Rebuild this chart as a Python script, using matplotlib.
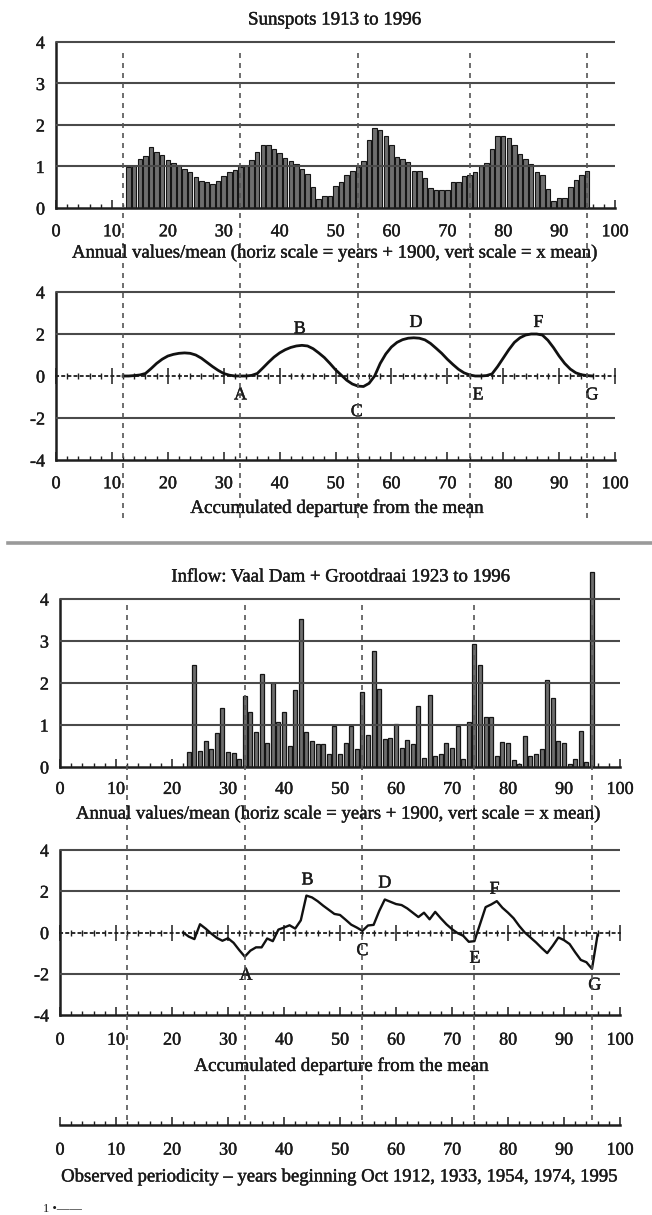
import matplotlib
matplotlib.use("Agg")
import matplotlib.pyplot as plt
import matplotlib.patheffects as pe
import numpy as np
from matplotlib.ticker import MultipleLocator, FixedLocator
from matplotlib.lines import Line2D

plt.rcParams['font.family'] = ['Liberation Serif', 'DejaVu Serif']

# ---------------- data ----------------
sun_years = list(range(13, 96))
sun_values = [0.98, 1.00, 1.18, 1.25, 1.47, 1.36, 1.28, 1.15, 1.08, 1.03,
              0.95, 0.87, 0.75, 0.66, 0.62, 0.58, 0.65, 0.78, 0.86, 0.92,
              0.98, 1.00, 1.15, 1.35, 1.53, 1.52, 1.42, 1.32, 1.20, 1.13,
              1.06, 0.95, 0.81, 0.51, 0.21, 0.29, 0.29, 0.54, 0.63, 0.80,
              0.90, 0.98, 1.14, 1.65, 1.92, 1.89, 1.74, 1.52, 1.24, 1.17,
              1.10, 0.90, 0.88, 0.72, 0.48, 0.43, 0.43, 0.43, 0.62, 0.62,
              0.76, 0.80, 0.87, 1.02, 1.08, 1.42, 1.74, 1.74, 1.68, 1.52,
              1.30, 1.18, 1.06, 0.86, 0.80, 0.45, 0.16, 0.24, 0.24, 0.50,
              0.68, 0.80, 0.88]

sun_acc_years = list(range(12, 97))
sun_acc = [0.00, 0.00, 0.02, 0.05, 0.12, 0.35, 0.60, 0.80, 0.95, 1.03,
           1.08, 1.10, 1.08, 1.00, 0.85, 0.65, 0.45, 0.27, 0.12, 0.04,
           0.00, 0.00, 0.00, 0.03, 0.12, 0.38, 0.65, 0.90, 1.10, 1.25,
           1.36, 1.43, 1.46, 1.43, 1.30, 1.10, 0.88, 0.60, 0.30, 0.05,
           -0.20, -0.38, -0.48, -0.50, -0.35, 0.00, 0.60, 1.05, 1.38, 1.60,
           1.73, 1.80, 1.82, 1.80, 1.72, 1.55, 1.32, 1.08, 0.80, 0.55,
           0.32, 0.15, 0.05, 0.00, 0.00, 0.02, 0.10, 0.45, 0.85, 1.25,
           1.60, 1.82, 1.95, 2.00, 2.00, 1.95, 1.70, 1.35, 0.95, 0.60,
           0.33, 0.15, 0.06, 0.02, 0.00]

inflow_years = list(range(23, 96))
inflow_values = [0.36, 2.44, 0.38, 0.62, 0.42, 0.80, 1.40, 0.36, 0.34, 0.20,
                 1.68, 1.30, 0.84, 2.22, 0.56, 2.00, 1.08, 1.30, 0.50, 1.84,
                 3.52, 0.84, 0.62, 0.54, 0.54, 0.30, 0.98, 0.30, 0.58, 0.98,
                 0.42, 1.78, 0.76, 2.76, 1.86, 0.66, 0.70, 1.02, 0.46, 0.64,
                 0.54, 1.46, 0.22, 1.72, 0.26, 0.32, 0.58, 0.46, 0.98, 0.18,
                 1.08, 2.94, 2.44, 1.20, 1.18, 0.26, 0.60, 0.58, 0.16, 0.06,
                 0.74, 0.26, 0.32, 0.44, 2.06, 1.64, 0.62, 0.56, 0.08, 0.20,
                 0.86, 0.12, 4.64]

inflow_acc_years = list(range(22, 97))
inflow_acc = [0.00, -0.20, -0.32, 0.40, 0.19, -0.05, -0.26, -0.40, -0.28, -0.50,
              -0.85, -1.17, -0.88, -0.72, -0.72, -0.29, -0.42, 0.14, 0.24, 0.35,
              0.19, 0.59, 1.79, 1.70, 1.52, 1.30, 1.10, 0.90, 0.85, 0.62,
              0.38, 0.24, 0.08, 0.34, 0.37, 1.04, 1.60, 1.49, 1.38, 1.33,
              1.17, 0.96, 0.75, 0.96, 0.64, 1.00, 0.69, 0.40, 0.16, -0.03,
              -0.16, -0.45, -0.42, 0.40, 1.23, 1.36, 1.52, 1.20, 0.96, 0.69,
              0.32, 0.00, -0.24, -0.48, -0.75, -1.00, -0.64, -0.24, -0.37, -0.56,
              -0.96, -1.33, -1.44, -1.76, -0.10]

period_years = [12, 33, 54, 74, 95]

letters = ['A', 'B', 'C', 'D', 'E', 'F', 'G']
sun_letter_x = [33.0, 43.6, 53.8, 64.4, 75.5, 86.3, 95.9]
sun_letter_y = [-0.9, 2.25, -1.7, 2.55, -0.9, 2.55, -0.9]
inf_letter_x = [33.2, 44.2, 54.0, 58.0, 74.1, 77.6, 95.5]
inf_letter_y = [-2.07, 2.55, -0.88, 2.4, -1.25, 2.1, -2.55]

xtick_vals = list(range(0, 101, 10))

title_sun = "Sunspots 1913 to 1996"
title_inf = "Inflow: Vaal Dam + Grootdraai 1923 to 1996"
xlab_annual = "Annual values/mean (horiz scale = years + 1900, vert scale = x mean)"
xlab_acc = "Accumulated departure from the mean"
xlab_period = "Observed periodicity \u2013 years beginning Oct 1912, 1933, 1954, 1974, 1995"

# ---------------- layout helpers ----------------
W, H = 652, 1215
fig = plt.figure(figsize=(W / 100, H / 100), dpi=100)
fig.patch.set_facecolor('white')

GRID_C = '#4a4a4a'
AX_C = '#1e1e1e'
TXT_C = '#1a1a1a'
FS_TICK = 13
THICK = [pe.withStroke(linewidth=0.3, foreground=TXT_C)]


def add_axes_px(x0, x1, px_lo, px_hi, v_lo, v_hi, ylim):
    unit = (px_lo - px_hi) / (v_hi - v_lo)
    ybot = px_lo + (v_lo - ylim[0]) * unit
    ytop = px_lo - (ylim[1] - v_lo) * unit
    ax = fig.add_axes([x0 / W, 1 - ybot / H, (x1 - x0) / W, (ybot - ytop) / H])
    ax.set_ylim(*ylim)
    ax.set_xlim(0, 100)
    ax.patch.set_visible(False)
    return ax


def thicken_ticklabels(ax):
    for t in ax.get_xticklabels() + ax.get_yticklabels():
        t.set_path_effects(THICK)


def style_chart(ax, yticks, ylabels, grid_vals, ylo, yhi, xpad):
    for s in ('top', 'right'):
        ax.spines[s].set_visible(False)
    ax.spines['left'].set_linewidth(1.8)
    ax.spines['left'].set_color(AX_C)
    ax.spines['left'].set_bounds(ylo, yhi)
    ax.spines['bottom'].set_linewidth(1.8)
    ax.spines['bottom'].set_color(AX_C)
    ax.set_yticks(yticks)
    ax.set_yticklabels(ylabels)
    ax.tick_params(axis='y', length=0, pad=8, labelsize=FS_TICK, labelcolor=TXT_C)
    ax.xaxis.set_major_locator(FixedLocator(xtick_vals))
    ax.xaxis.set_minor_locator(MultipleLocator(2))
    ax.set_xticklabels([str(v) for v in xtick_vals])
    ax.tick_params(axis='x', which='major', direction='in', length=6, width=1.1,
                   color=AX_C, labelsize=FS_TICK, pad=xpad, labelcolor=TXT_C)
    ax.tick_params(axis='x', which='minor', direction='in', length=3, width=1.0, color=AX_C)
    thicken_ticklabels(ax)
    for v in grid_vals:
        ax.axhline(v, color=GRID_C, lw=1.5, zorder=3)


def zero_axis(ax):
    sec = ax.secondary_xaxis(0, transform=ax.transData)
    sec.xaxis.set_major_locator(FixedLocator(xtick_vals))
    sec.xaxis.set_minor_locator(MultipleLocator(2))
    sec.tick_params(which='major', direction='inout', length=11, width=1.1, color=AX_C,
                    labelbottom=False, labeltop=False)
    sec.tick_params(which='minor', direction='inout', length=4, width=1.0, color=AX_C)
    for s in sec.spines.values():
        s.set_linestyle((0, (1.2, 2.2)))
        s.set_linewidth(1.3)
        s.set_color(AX_C)
    return sec


def fit_text(t, target_px):
    r = fig.canvas.get_renderer()
    w = t.get_window_extent(r).width
    t.set_fontsize(t.get_fontsize() * target_px / w)


def ftext(xpx, ypx, s, target_w, **kw):
    t = fig.text(xpx / W, 1 - ypx / H, s, ha='center', va='center', color=TXT_C,
                 fontsize=12, **kw)
    fit_text(t, target_w)
    t.set_path_effects(THICK)
    return t

# ---------------- chart 1: sunspots annual ----------------
ax1 = add_axes_px(56, 615, 208, 42, 0, 4, (0, 4.15))
style_chart(ax1, [0, 1, 2, 3, 4], ['0', '1', '2', '3', '4'], [1, 2, 3, 4], 0, 4, 11)
ax1.bar(sun_years, sun_values, width=0.8, facecolor='#6e6e6e', edgecolor='#151515',
        linewidth=0.8, zorder=2)

# ---------------- chart 2: sunspots accumulated ----------------
ax2 = add_axes_px(56, 615, 460, 292, -4, 4, (-4, 4.2))
style_chart(ax2, [-4, -2, 0, 2, 4], ['-4', '-2', '0', '2', '4'], [2, 4, -2], -4, 4, 11)
zero_axis(ax2)
ax2.plot(sun_acc_years, sun_acc, color='#111111', lw=2.0, zorder=4,
         solid_joinstyle='round')
for lab, lx, ly in zip(letters, sun_letter_x, sun_letter_y):
    ax2.text(lx, ly, lab, ha='center', va='center', fontsize=13, color=TXT_C, zorder=5,
             path_effects=THICK)

# ---------------- chart 3: inflow annual ----------------
ax3 = add_axes_px(60, 620, 767, 599, 0, 4, (0, 4.7))
style_chart(ax3, [0, 1, 2, 3, 4], ['0', '1', '2', '3', '4'], [1, 2, 3, 4], 0, 4, 10)
ax3.bar(inflow_years, inflow_values, width=0.68, facecolor='#6e6e6e', edgecolor='#151515',
        linewidth=0.9, zorder=2)

# ---------------- chart 4: inflow accumulated ----------------
ax4 = add_axes_px(60, 620, 1015, 850, -4, 4, (-4, 4.2))
style_chart(ax4, [-4, -2, 0, 2, 4], ['-4', '-2', '0', '2', '4'], [2, 4, -2], -4, 4, 12)
zero_axis(ax4)
ax4.plot(inflow_acc_years, inflow_acc, color='#111111', lw=1.7, zorder=4,
         solid_joinstyle='round')
for lab, lx, ly in zip(letters, inf_letter_x, inf_letter_y):
    ax4.text(lx, ly, lab, ha='center', va='center', fontsize=13, color=TXT_C, zorder=5,
             path_effects=THICK)

# ---------------- bottom scale ----------------
ax5 = add_axes_px(60, 620, 1125, 1105, 0, 1, (0, 1))
for s in ('top', 'right', 'left'):
    ax5.spines[s].set_visible(False)
ax5.spines['bottom'].set_linewidth(1.8)
ax5.spines['bottom'].set_color(AX_C)
ax5.set_yticks([])
ax5.xaxis.set_major_locator(FixedLocator(xtick_vals))
ax5.xaxis.set_minor_locator(MultipleLocator(2))
ax5.set_xticklabels([str(v) for v in xtick_vals])
ax5.tick_params(axis='x', which='major', direction='in', length=6, width=1.1,
                color=AX_C, labelsize=FS_TICK, pad=12, labelcolor=TXT_C)
ax5.tick_params(axis='x', which='minor', direction='in', length=3, width=1.0, color=AX_C)
thicken_ticklabels(ax5)

# ---------------- dashed periodicity lines ----------------
ov_top = add_axes_px(56, 615, 518, 48, 0, 1, (0, 1))
ov_top.axis('off')
ov_top.vlines(period_years, 0, 1, colors='#555555', linestyles=(0, (3.0, 3.0)), lw=1.2)
ov_bot = add_axes_px(60, 620, 1120, 605, 0, 1, (0, 1))
ov_bot.axis('off')
ov_bot.vlines(period_years, 0, 1, colors='#555555', linestyles=(0, (3.0, 3.0)), lw=1.2)

# ---------------- separator ----------------
fig.add_artist(Line2D([8 / W, 1.0], [1 - 543 / H, 1 - 543 / H], color='#9a9a9a', lw=2.6,
                      transform=fig.transFigure))

# ---------------- texts ----------------
ftext(335, 20, title_sun, 173)
ftext(335, 253, xlab_annual, 524)
ftext(337, 508, xlab_acc, 293)
ftext(341, 577, title_inf, 338)
ftext(339, 814, xlab_annual, 523)
ftext(341, 1066, xlab_acc, 294)
ftext(340, 1177, xlab_period, 555)
fig.text(43 / W, 1 - 1209 / H, "1 \u2022\u2014\u2014", ha='left', va='center', fontsize=9,
         color=TXT_C)

fig.savefig('out.png', dpi=100, facecolor='white')
